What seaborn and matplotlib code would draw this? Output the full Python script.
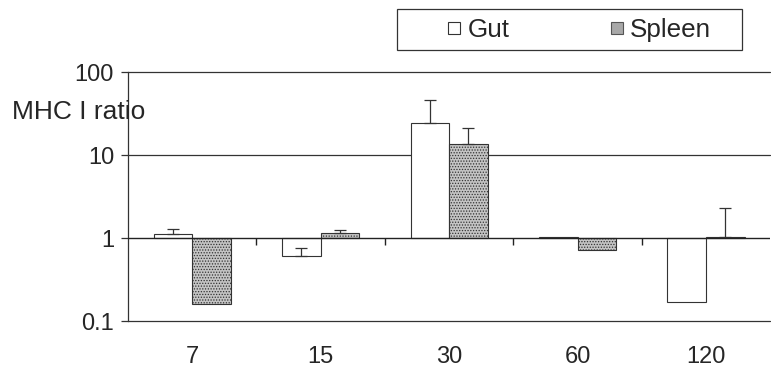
import numpy as np
import pandas as pd
import matplotlib
matplotlib.use("Agg")
import matplotlib.pyplot as plt
from matplotlib.lines import Line2D
from matplotlib.patches import Rectangle
import seaborn as sns

sns.set_style("white")
plt.rcParams["font.family"] = ["Liberation Sans", "DejaVu Sans"]
plt.rcParams["hatch.linewidth"] = 0.6
plt.rcParams["hatch.color"] = "#444444"

# ---- data ----
days = ["7", "15", "30", "60", "120"]
gut = [1.12, 0.60, 24.0, 1.04, 0.17]
gut_err = [0.17, 0.16, 22.0, 0.0, 0.0]
spleen = [0.16, 1.15, 13.4, 0.72, 1.03]
spleen_err = [0.0, 0.10, 7.5, 0.0, 1.28]
y_ticks = [0.1, 1, 10, 100]
y_tick_labels = ["0.1", "1", "10", "100"]

df = pd.DataFrame({
    "day": days * 2,
    "tissue": ["Gut"] * len(days) + ["Spleen"] * len(days),
    "ratio": gut + spleen,
    "err": gut_err + spleen_err,
})
# bars start at ratio 1, so plot in log10 space with baseline 0
df["log_ratio"] = np.log10(df["ratio"])

fig = plt.figure(figsize=(7.71, 3.79), dpi=100)
ax = fig.add_axes([0.166, 0.153, 0.833, 0.657])

sns.barplot(data=df, x="day", y="log_ratio", hue="tissue", order=days,
            palette={"Gut": "white", "Spleen": "#c4c4c4"},
            edgecolor="#333333", linewidth=0.8, width=0.6, gap=0,
            errorbar=None, legend=False, ax=ax)

for p in ax.containers[1]:
    p.set_hatch("......")

# upper error bars
for cont, tissue in zip(ax.containers, ["Gut", "Spleen"]):
    sub = df[df["tissue"] == tissue]
    xs = [p.get_x() + p.get_width() / 2 for p in cont]
    ends = sub["log_ratio"].to_numpy()
    upper = np.log10(sub["ratio"].to_numpy() + sub["err"].to_numpy()) - ends
    mask = sub["err"].to_numpy() > 0
    ax.errorbar(np.array(xs)[mask], ends[mask],
                yerr=[np.zeros(mask.sum()), upper[mask]],
                fmt="none", ecolor="#333333", elinewidth=0.9,
                capsize=4.5, capthick=0.9)

# axes styling
ax.set_ylim(np.log10(y_ticks[0]), np.log10(y_ticks[-1]))
ax.set_xlim(-0.5, len(days) - 0.5)
ax.set_yticks(np.log10(y_ticks))
ax.set_yticklabels(y_tick_labels)
for yv in [0.1, 10, 100]:
    ax.axhline(np.log10(yv), color="#333333", lw=0.9, zorder=0,
               clip_on=False)
ax.axhline(0, color="#222222", lw=1.0, zorder=3)
tick_len = 7 / 82.5
ax.vlines(np.arange(len(days) - 1) + 0.5, -tick_len, 0,
          color="#222222", lw=1.0)

for s in ["top", "right", "bottom"]:
    ax.spines[s].set_visible(False)
ax.spines["left"].set_color("#333333")
ax.spines["left"].set_linewidth(0.9)
ax.tick_params(axis="y", direction="out", length=5, width=0.9,
               color="#333333", pad=5, labelsize=17, left=True)
ax.tick_params(axis="x", length=0, pad=18, labelsize=17)
ax.set_xlabel("")
ax.set_ylabel("")

fig.text(12 / 771, 1 - 112 / 379, "MHC I ratio", fontsize=19,
         ha="left", va="center")

# legend with its own box
handles = [
    Line2D([], [], marker="s", linestyle="none", markersize=8.5,
           markerfacecolor="white", markeredgecolor="#333333",
           markeredgewidth=0.8),
    Line2D([], [], marker="s", linestyle="none", markersize=8.5,
           markerfacecolor="#a8a8a8", markeredgecolor="#555555",
           markeredgewidth=0.8),
]
fig.legend(handles, ["Gut", "Spleen"], ncol=2, frameon=False,
           loc="center left", bbox_to_anchor=(435 / 771, 1 - 30 / 379),
           borderpad=0, handlelength=0.45, handletextpad=0.3,
           columnspacing=3.9, fontsize=18.7)
fig.patches.append(Rectangle((397 / 771, 1 - 50 / 379), 345 / 771, 41 / 379,
                             transform=fig.transFigure, fill=False,
                             edgecolor="#333333", lw=0.9))

fig.savefig("out.png", dpi=100)
